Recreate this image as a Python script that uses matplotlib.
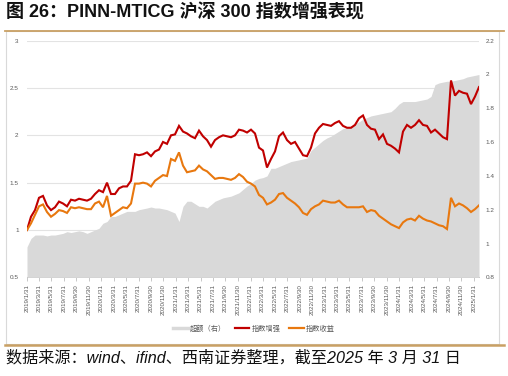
import calendar
import numpy as np
import pandas as pd
import matplotlib
matplotlib.use('Agg')
import matplotlib.pyplot as plt
from matplotlib.lines import Line2D
from matplotlib.patches import Rectangle

# ---------------- data ----------------
dates = pd.date_range('2019-01-31', '2025-02-24', periods=114)

enhanced = [1.00, 1.14, 1.21, 1.34, 1.36, 1.26, 1.21, 1.24, 1.30, 1.28,
            1.25, 1.32, 1.31, 1.33, 1.32, 1.31, 1.33, 1.38, 1.42, 1.40,
            1.50, 1.38, 1.38, 1.44, 1.46, 1.46, 1.52, 1.80, 1.79, 1.80,
            1.82, 1.78, 1.83, 1.85, 1.93, 1.91, 2.00, 2.01, 2.10, 2.04,
            2.02, 1.99, 1.97, 2.05, 1.99, 1.95, 1.88, 1.95, 1.98, 2.00,
            1.99, 1.98, 2.00, 2.06, 2.05, 2.03, 2.06, 2.02, 1.87, 1.84,
            1.66, 1.75, 1.83, 1.99, 2.03, 1.95, 1.91, 1.93, 1.86, 1.79,
            1.78, 1.87, 2.02, 2.08, 2.12, 2.11, 2.10, 2.13, 2.15, 2.10,
            2.08, 2.08, 2.11, 2.18, 2.21, 2.11, 2.07, 2.06, 1.96, 2.01,
            1.91, 1.89, 1.86, 1.82, 2.04, 2.11, 2.08, 2.11, 2.16, 2.11,
            2.10, 2.03, 2.06, 2.02, 1.98, 1.96, 2.58, 2.42, 2.47, 2.45,
            2.44, 2.33, 2.41, 2.51]

index_ret = [1.00, 1.07, 1.16, 1.25, 1.27, 1.19, 1.14, 1.17, 1.21, 1.20,
             1.18, 1.24, 1.23, 1.24, 1.23, 1.22, 1.22, 1.28, 1.30, 1.24,
             1.36, 1.15, 1.18, 1.21, 1.24, 1.23, 1.28, 1.49, 1.49, 1.50,
             1.49, 1.46, 1.52, 1.55, 1.58, 1.57, 1.75, 1.73, 1.82, 1.68,
             1.61, 1.62, 1.63, 1.68, 1.64, 1.62, 1.58, 1.54, 1.55, 1.55,
             1.54, 1.53, 1.55, 1.59, 1.56, 1.51, 1.49, 1.46, 1.37, 1.34,
             1.27, 1.29, 1.32, 1.38, 1.39, 1.34, 1.31, 1.28, 1.24, 1.18,
             1.16, 1.22, 1.25, 1.27, 1.31, 1.30, 1.29, 1.29, 1.31, 1.27,
             1.24, 1.24, 1.24, 1.24, 1.25, 1.19, 1.21, 1.20, 1.15, 1.12,
             1.09, 1.06, 1.04, 1.02, 1.08, 1.11, 1.12, 1.10, 1.15, 1.12,
             1.10, 1.09, 1.07, 1.05, 1.04, 1.01, 1.34, 1.25, 1.28, 1.26,
             1.23, 1.19, 1.22, 1.26]

excess = [0.98, 1.03, 1.05, 1.05, 1.05, 1.045, 1.05, 1.05, 1.055, 1.06,
          1.07, 1.065, 1.07, 1.075, 1.07, 1.06, 1.07, 1.08, 1.09, 1.12,
          1.13, 1.16, 1.16, 1.17, 1.18, 1.19, 1.19, 1.19, 1.20, 1.205,
          1.21, 1.216, 1.21, 1.21, 1.205, 1.20, 1.19, 1.18, 1.13, 1.22,
          1.25, 1.25, 1.235, 1.22, 1.22, 1.21, 1.23, 1.25, 1.26, 1.27,
          1.275, 1.28, 1.29, 1.30, 1.32, 1.34, 1.355, 1.375, 1.385, 1.39,
          1.40, 1.445, 1.445, 1.455, 1.465, 1.475, 1.485, 1.49, 1.495, 1.50,
          1.505, 1.55, 1.57, 1.59, 1.61, 1.625, 1.635, 1.65, 1.665, 1.68,
          1.685, 1.695, 1.71, 1.72, 1.735, 1.745, 1.755, 1.76, 1.765, 1.77,
          1.775, 1.78, 1.80, 1.825, 1.84, 1.84, 1.84, 1.84, 1.845, 1.85,
          1.855, 1.87, 1.94, 1.95, 1.955, 1.96, 1.96, 1.965, 1.97, 1.975,
          1.985, 1.99, 1.995, 2.00]

series_names = ['超额（右）', '指数增强', '指数收益']

tick_dates = [pd.Timestamp(y, m, calendar.monthrange(y, m)[1])
              for y in range(2019, 2026) for m in (1, 3, 5, 7, 9, 11)
              if (y, m) <= (2025, 1)]
tick_labels = [f"{d.year}/{d.month}/{d.day}" for d in tick_dates]

left_ticks = [0.5, 1.0, 1.5, 2.0, 2.5, 3.0]
left_labels = ['0.5', '1', '1.5', '2', '2.5', '3']
right_ticks = [0.8, 1.0, 1.2, 1.4, 1.6, 1.8, 2.0, 2.2]
right_labels = ['0.8', '1', '1.2', '1.4', '1.6', '1.8', '2', '2.2']

# ---------------- style ----------------
W, H = 508, 376
RED = '#C00000'
ORANGE = '#E8780F'
GRAY = '#D9D9D9'
TXT = '#595959'
TAN = '#C9A064'
CJK = ['Liberation Sans', 'Noto Sans CJK SC']

fig = plt.figure(figsize=(W / 100, H / 100), dpi=100)

def fx(x):
    return x / W

def fy(y):
    return 1 - y / H

# frame and rules
fig.patches.append(Rectangle((fx(6), fy(344)), fx(493), 313 / H, transform=fig.transFigure,
                             fill=False, edgecolor='#D9D9D9', lw=0.8))
fig.lines.append(Line2D([fx(5), fx(504)], [fy(31), fy(31)], transform=fig.transFigure,
                        color=TAN, lw=1.3))
fig.lines.append(Line2D([fx(5), fx(504)], [fy(344.5), fy(344.5)], transform=fig.transFigure,
                        color=TAN, lw=1.8))

rect = [fx(27), fy(277.3), (479 - 27) / W, (277.3 - 40.7) / H]
axg = fig.add_axes(rect)
axr = axg.twinx()
axl = axg.twinx()

# base axes: grid + x axis + left labels
axg.set_ylim(0.5, 3.0)
axg.set_yticks(left_ticks)
axg.set_yticklabels(left_labels)
axg.set_xlim(dates[0], dates[-1])
axg.grid(axis='y', color='#E3E3E3', lw=0.8)
axg.set_axisbelow(True)
axg.set_xticks(tick_dates)
axg.set_xticklabels(tick_labels, rotation=90, ha='center', va='top')
axg.tick_params(axis='x', length=3, width=0.6, color='#BFBFBF', pad=2,
                labelsize=4.5, labelcolor=TXT)
axg.tick_params(axis='y', length=0, pad=6, labelsize=4.6, labelcolor=TXT)
for lab in axg.get_xticklabels() + axg.get_yticklabels():
    lab.set_family('Liberation Sans')
for s in ['top', 'left', 'right']:
    axg.spines[s].set_visible(False)
axg.spines['bottom'].set_color('#BFBFBF')
axg.spines['bottom'].set_linewidth(0.7)

# right axis: excess area
axr.fill_between(dates, 0.8, excess, color=GRAY, lw=0, zorder=1)
axr.set_ylim(0.8, 2.2)
axr.set_yticks(right_ticks)
axr.set_yticklabels(right_labels)
axr.tick_params(axis='y', length=0, pad=5, labelsize=4.6, labelcolor=TXT)
for lab in axr.get_yticklabels():
    lab.set_family('Liberation Sans')
for s in axr.spines.values():
    s.set_visible(False)
axr.set_xlim(dates[0], dates[-1])

# lines on top, left scale
axl.plot(dates, enhanced, color=RED, lw=1.5, solid_joinstyle='miter')
axl.plot(dates, index_ret, color=ORANGE, lw=1.5, solid_joinstyle='miter')
axl.set_ylim(0.5, 3.0)
axl.set_xlim(dates[0], dates[-1])
axl.set_yticks([])
for s in axl.spines.values():
    s.set_visible(False)
axl.patch.set_visible(False)

# legend
handles = [Line2D([], [], color=GRAY, lw=2.5),
           Line2D([], [], color=RED, lw=1.6),
           Line2D([], [], color=ORANGE, lw=1.6)]
fig.legend(handles, series_names, loc='center', bbox_to_anchor=(fx(254), fy(329)),
           ncol=3, frameon=False, handlelength=2.0, handletextpad=0.3,
           columnspacing=1.2, prop={'family': ['Noto Sans CJK SC'], 'size': 5.2},
           labelcolor=TXT)

# title and footer
fig.text(fx(6), fy(13), '图 26：PINN-MTICG 沪深 300 指数增强表现', family=CJK,
         fontsize=13, fontweight='bold', va='center', ha='left', color='#111111')
fig.text(fx(6), fy(358), '数据来源：wind、ifind、西南证券整理，截至2025 年 3 月 31 日', family=CJK,
         fontsize=11.6, style='italic', va='center', ha='left', color='#111111')

fig.savefig('out.png', dpi=100)
